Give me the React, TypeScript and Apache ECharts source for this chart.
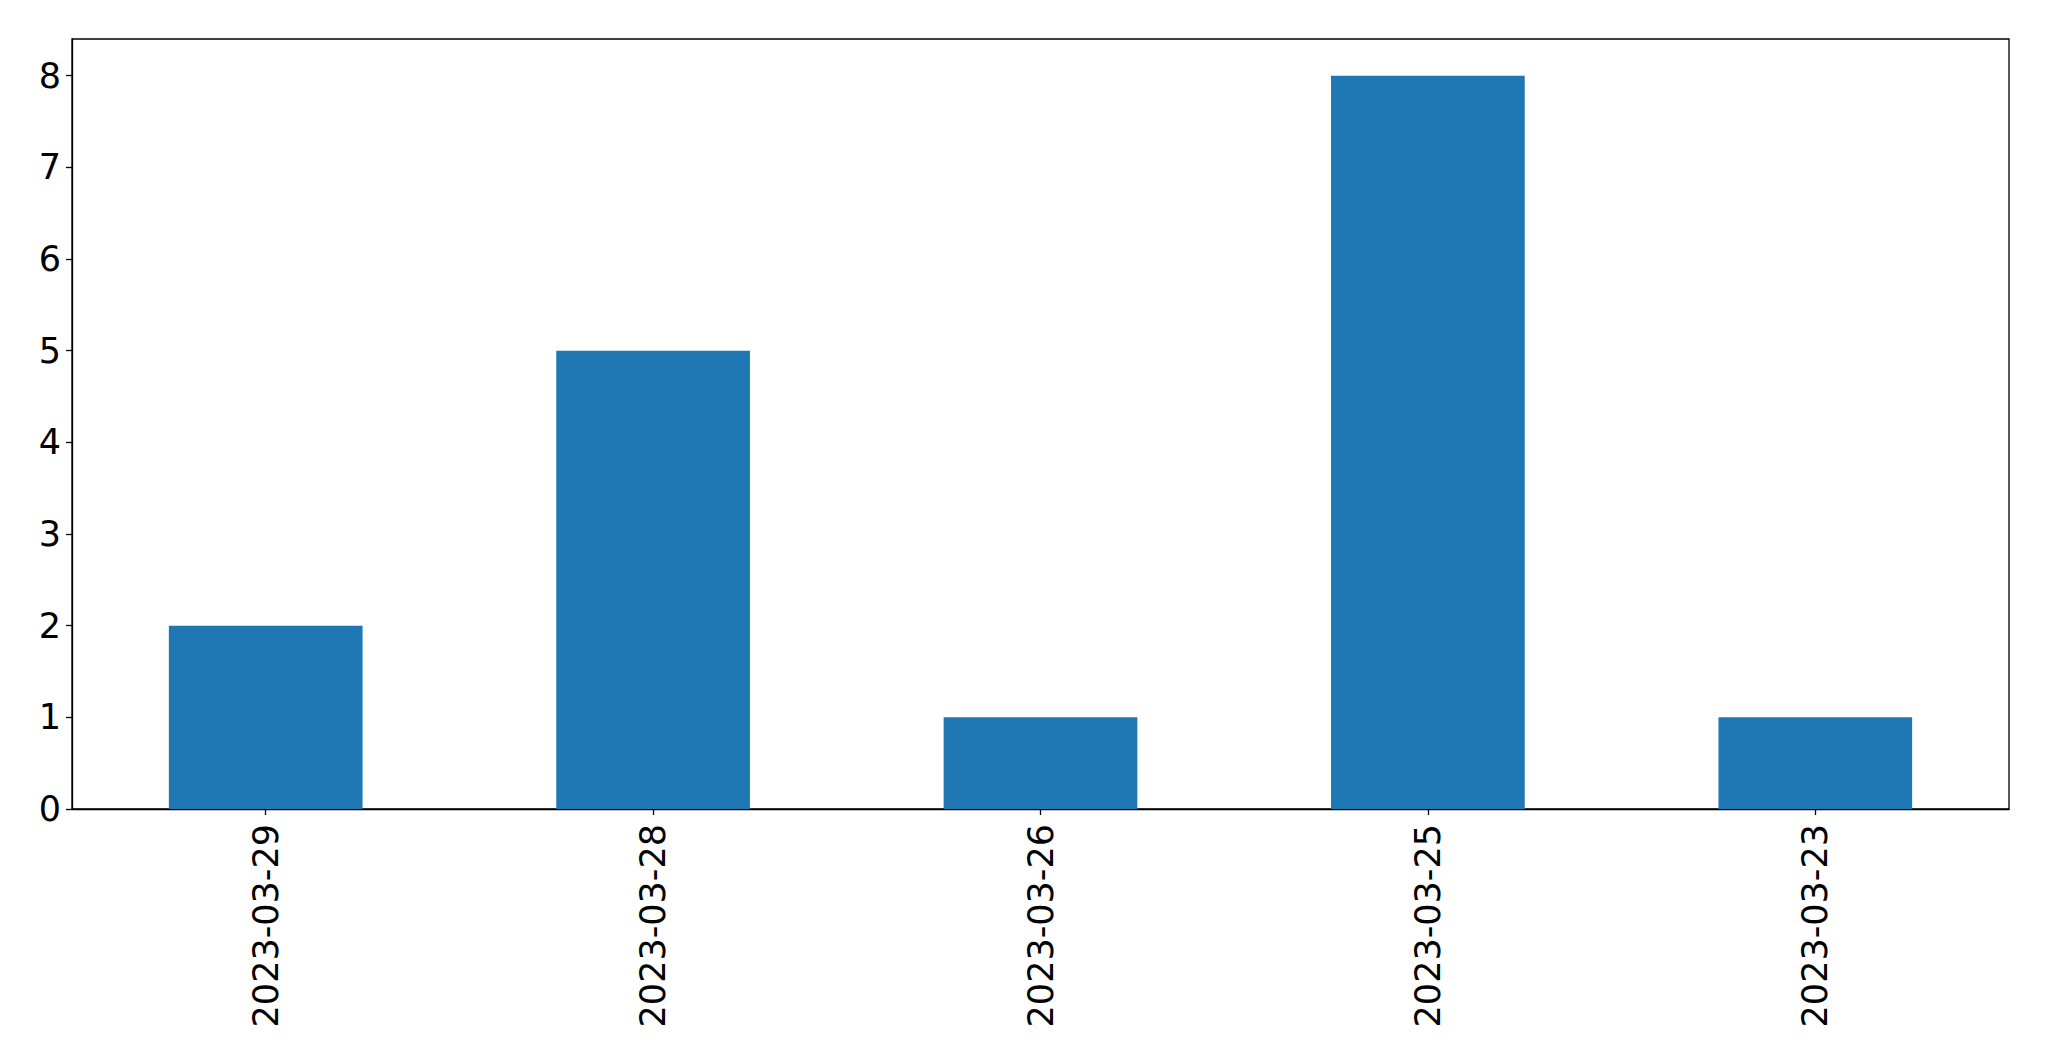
import React, { useEffect, useRef } from "react";
import * as echarts from "echarts";

const categories = ["2023-03-29", "2023-03-28", "2023-03-26", "2023-03-25", "2023-03-23"];
const counts = [2, 5, 1, 8, 1];
const yTicks = [0, 1, 2, 3, 4, 5, 6, 7, 8];

export default function App() {
  const ref = useRef<HTMLDivElement>(null);
  useEffect(() => {
    if (!ref.current) return;
    const chart = echarts.init(ref.current, null, { renderer: "svg" });
    const font = "DejaVu Sans";
    chart.setOption({
      animation: false,
      backgroundColor: "#ffffff",
      grid: {
        left: 72,
        top: 39,
        right: 40,
        bottom: 252,
        show: true,
        borderColor: "#000000",
        borderWidth: 1.3,
        backgroundColor: "transparent",
      },
      xAxis: {
        type: "category",
        data: categories,
        axisLine: { show: true, lineStyle: { color: "#000", width: 1.3 } },
        axisTick: { show: true, alignWithLabel: true, length: 6, lineStyle: { color: "#000", width: 1.3 } },
        axisLabel: { rotate: 90, color: "#000", fontSize: 35, fontFamily: font, margin: 15 },
        splitLine: { show: false },
      },
      yAxis: {
        type: "value",
        min: 0,
        max: 8.4,
        interval: 1,
        axisLine: { show: true, lineStyle: { color: "#000", width: 1.3 } },
        axisTick: { show: true, length: 6, lineStyle: { color: "#000", width: 1.3 }, customValues: yTicks },
        axisLabel: { color: "#000", fontSize: 35, fontFamily: font, margin: 11, customValues: yTicks },
        splitLine: { show: false },
      },
      series: [
        {
          type: "bar",
          data: counts,
          barWidth: "50%",
          itemStyle: { color: "#1f77b4" },
        },
      ],
    });
    return () => chart.dispose();
  }, []);
  return (
    <div
      ref={ref}
      style={{ position: "fixed", left: 0, top: 0, width: 2049, height: 1061, background: "#fff" }}
    />
  );
}
